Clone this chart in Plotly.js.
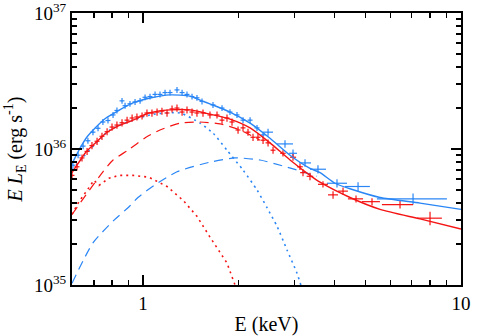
<!DOCTYPE html>
<html>
<head>
<meta charset="utf-8">
<script src="https://cdn.plot.ly/plotly-3.0.1.min.js"></script>
<style>
  body { margin: 0; background: #fff; }
  #plot { width: 480px; height: 336px; }
</style>
</head>
<body>
<div id="plot"></div>
<script>
// luminosities are in units of 1e36 erg/s, energies in keV
var SCALE = 1e36;
var BLUE = '#2a86f5';
var RED = '#f51414';

// blue spectrum - data (dense bins)
var blueE = [0.602, 0.625, 0.648, 0.671, 0.696, 0.722, 0.748, 0.776, 0.805, 0.828, 0.859, 0.878, 0.910, 0.944,
  0.979, 1.015, 1.052, 1.091, 1.131, 1.173, 1.216, 1.279, 1.327, 1.375, 1.426, 1.478, 1.533, 1.660, 1.772,
  1.877, 1.975, 2.063, 2.171, 2.283, 2.385];
var blueL = [0.76, 0.90, 1.05, 1.15, 1.33, 1.42, 1.58, 1.62, 1.78, 1.92, 2.26, 2.08, 2.15, 2.22,
  2.26, 2.40, 2.43, 2.52, 2.52, 2.60, 2.60, 2.72, 2.60, 2.52, 2.43, 2.38, 2.24, 2.11, 2.00,
  1.87, 1.78, 1.63, 1.63, 1.43, 1.27];
// blue spectrum - data (wide bins)
var blueHiE = [2.473, 2.796, 2.963, 3.232, 3.550, 4.074, 4.745, 7.066];
var blueHiLo = [2.385, 2.639, 2.879, 3.094, 3.351, 3.789, 4.310, 5.440];
var blueHiHi = [2.564, 2.963, 3.050, 3.375, 3.763, 4.380, 5.170, 9.030];
var blueHiL = [1.33, 1.09, 0.93, 0.79, 0.71, 0.56, 0.53, 0.43];
var blueHiErr = [0.08, 0.07, 0.06, 0.05, 0.05, 0.04, 0.04, 0.04];

// red spectrum - data (dense bins)
var redE = [0.598, 0.620, 0.643, 0.667, 0.691, 0.717, 0.743, 0.771, 0.799, 0.828, 0.859, 0.891, 0.924, 0.957,
  0.993, 1.029, 1.067, 1.107, 1.147, 1.190, 1.234, 1.279, 1.327, 1.375, 1.426, 1.478, 1.544, 1.624, 1.709,
  1.772, 1.837, 1.905, 1.990, 2.063, 2.139, 2.218, 2.299, 2.385, 2.473, 2.564];
var redL = [0.64, 0.74, 0.86, 0.96, 1.06, 1.14, 1.24, 1.34, 1.45, 1.50, 1.56, 1.63, 1.69, 1.72,
  1.75, 1.84, 1.84, 1.87, 1.90, 1.84, 1.97, 2.00, 1.87, 1.94, 1.87, 1.84, 1.84, 1.78, 1.78,
  1.63, 1.69, 1.58, 1.38, 1.43, 1.33, 1.22, 1.22, 1.16, 1.11, 0.98];
// red spectrum - data (wide bins)
var redHiE = [2.755, 2.963, 3.117, 3.185, 3.351, 3.681, 3.959, 4.256, 4.676, 5.250, 6.431, 7.991];
var redHiLo = [2.700, 2.900, 3.050, 3.120, 3.270, 3.550, 3.817, 4.105, 4.410, 4.880, 5.640, 7.270];
var redHiHi = [2.810, 3.030, 3.180, 3.250, 3.430, 3.817, 4.105, 4.410, 4.920, 5.560, 7.070, 8.710];
var redHiL = [0.93, 0.87, 0.74, 0.67, 0.63, 0.55, 0.46, 0.49, 0.43, 0.41, 0.39, 0.31];
var redHiErr = [0.05, 0.05, 0.04, 0.04, 0.04, 0.03, 0.03, 0.03, 0.025, 0.025, 0.025, 0.035];

// models: total (solid), dashed and dotted components
var blueTotE = [0.598, 0.629, 0.662, 0.712, 0.765, 0.822, 0.930, 1.052, 1.216, 1.405, 1.511, 1.877, 2.171, 2.508,
  2.900, 3.351, 3.603, 4.017, 4.477, 5.564, 7.432, 10];
var blueTotL = [0.78, 0.98, 1.20, 1.45, 1.69, 1.87, 2.18, 2.37, 2.50, 2.45, 2.29, 1.87, 1.55, 1.20,
  0.90, 0.72, 0.67, 0.56, 0.51, 0.44, 0.40, 0.36];
var blueDashE = [0.598, 0.696, 0.811, 0.897, 0.964, 1.083, 1.279, 1.624, 1.947, 2.333, 2.755, 3.117, 3.525];
var blueDashL = [0.103, 0.204, 0.30, 0.37, 0.44, 0.54, 0.68, 0.80, 0.86, 0.83, 0.75, 0.69, 0.63];
var blueDotE = [0.598, 0.787, 1.052, 1.307, 1.511, 1.660, 1.837, 2.063, 2.283, 2.455, 2.639, 2.837, 3.050, 3.185];
var blueDotL = [0.70, 1.38, 1.78, 1.84, 1.55, 1.31, 0.98, 0.70, 0.50, 0.37, 0.27, 0.181, 0.122, 0.089];

var redTotE = [0.598, 0.629, 0.662, 0.712, 0.765, 0.822, 0.930, 1.044, 1.216, 1.405, 1.567, 1.877, 2.171, 2.508,
  2.900, 3.351, 3.603, 4.477, 5.564, 7.432, 10];
var redTotL = [0.67, 0.80, 0.95, 1.12, 1.31, 1.45, 1.63, 1.84, 1.94, 1.94, 1.84, 1.66, 1.43, 1.11,
  0.83, 0.64, 0.57, 0.44, 0.36, 0.306, 0.258];
var redDashE = [0.598, 0.662, 0.748, 0.805, 0.897, 1.022, 1.131, 1.307, 1.511, 1.747, 2.018, 2.333];
var redDashL = [0.33, 0.46, 0.68, 0.83, 0.98, 1.22, 1.38, 1.55, 1.58, 1.53, 1.38, 1.16];
var redDotE = [0.598, 0.629, 0.676, 0.701, 0.727, 0.782, 0.840, 0.930, 1.044, 1.190, 1.336, 1.478, 1.624, 1.837, 1.947, 2.018];
var redDotL = [0.33, 0.41, 0.52, 0.59, 0.54, 0.61, 0.64, 0.64, 0.62, 0.53, 0.42, 0.32, 0.225, 0.145, 0.10, 0.08];

function lum(a) { return a.map(function (v) { return v * SCALE; }); }

function model(x, y, color, dash, w, shape) {
  return { x: x, y: lum(y), mode: 'lines', type: 'scatter', hoverinfo: 'skip',
    line: { color: color, width: w, dash: dash, shape: shape || 'spline', smoothing: 0.6 } };
}

function points(x, y, color, ypct) {
  return { x: x, y: lum(y), mode: 'markers', type: 'scatter', marker: { size: 1, color: color },
    error_x: { type: 'percent', value: 1.8, color: color, thickness: 1.2, width: 0 },
    error_y: { type: 'percent', value: ypct, color: color, thickness: 1.2, width: 0 } };
}

function wide(x, lo, hi, y, yerr, color) {
  return { x: x, y: lum(y), mode: 'markers', type: 'scatter', marker: { size: 1, color: color },
    error_x: { type: 'data', symmetric: false, color: color, thickness: 1.2, width: 0,
      array: x.map(function (v, i) { return hi[i] - v; }),
      arrayminus: x.map(function (v, i) { return v - lo[i]; }) },
    error_y: { type: 'data', array: lum(yerr), color: color, thickness: 1.2, width: 0 } };
}

var data = [
  model(blueDashE, blueDashL, BLUE, '9px,6px', 1.2),
  model(blueDotE, blueDotL, BLUE, '2px,4px', 1.6),
  model(redDashE, redDashL, RED, '9px,6px', 1.2),
  model(redDotE, redDotL, RED, '2px,4px', 1.6, 'linear'),
  points(blueE, blueL, BLUE, 5),
  wide(blueHiE, blueHiLo, blueHiHi, blueHiL, blueHiErr, BLUE),
  points(redE, redL, RED, 6),
  wide(redHiE, redHiLo, redHiHi, redHiL, redHiErr, RED),
  model(blueTotE, blueTotL, BLUE, 'solid', 1.4),
  model(redTotE, redTotL, RED, 'solid', 1.4)
];

var xMinor = [0.6, 0.7, 0.8, 0.9, 2, 3, 4, 5, 6, 7, 8, 9];
var yMinor = [2e35, 3e35, 4e35, 5e35, 6e35, 7e35, 8e35, 9e35, 2e36, 3e36, 4e36, 5e36, 6e36, 7e36, 8e36, 9e36];
var yTicks = [1e35, 1e36, 1e37];
var yTickText = ['10<sup>35</sup>', '10<sup>36</sup>', '10<sup>37</sup>'];

var serif = '"Liberation Serif", "Times New Roman", Times, serif';

var layout = {
  width: 480, height: 336,
  margin: { l: 72, r: 19, t: 13, b: 51 },
  paper_bgcolor: '#fff', plot_bgcolor: '#fff',
  showlegend: false,
  font: { family: serif, color: '#000', size: 18 },
  xaxis: {
    type: 'log', range: [Math.log10(0.598), 1],
    tickvals: [1, 10], ticktext: ['1', '10'],
    ticks: 'inside', ticklen: 10, tickwidth: 1.5, tickcolor: '#000',
    minor: { tickvals: xMinor, ticks: 'inside', ticklen: 5, tickwidth: 1.5, tickcolor: '#000' },
    showline: true, linecolor: '#000', linewidth: 2, mirror: 'ticks',
    showgrid: false, zeroline: false, ticklabeloverflow: 'allow',
    tickfont: { family: serif, size: 19 },
    title: { text: 'E (keV)', font: { family: serif, size: 20 }, standoff: 6 }
  },
  yaxis: {
    type: 'log', range: [35, 37],
    tickvals: yTicks, ticktext: yTickText,
    ticks: 'inside', ticklen: 10, tickwidth: 1.5, tickcolor: '#000',
    minor: { tickvals: yMinor, ticks: 'inside', ticklen: 5, tickwidth: 1.5, tickcolor: '#000' },
    showline: true, linecolor: '#000', linewidth: 2, mirror: 'ticks',
    showgrid: false, zeroline: false, ticklabeloverflow: 'allow',
    tickfont: { family: serif, size: 19 },
    title: { text: '<i>E L</i><sub>E</sub> (erg s<sup>-1</sup>)', font: { family: serif, size: 20 }, standoff: 6 }
  }
};

Plotly.newPlot('plot', data, layout, { displayModeBar: false, staticPlot: true });
</script>
</body>
</html>
